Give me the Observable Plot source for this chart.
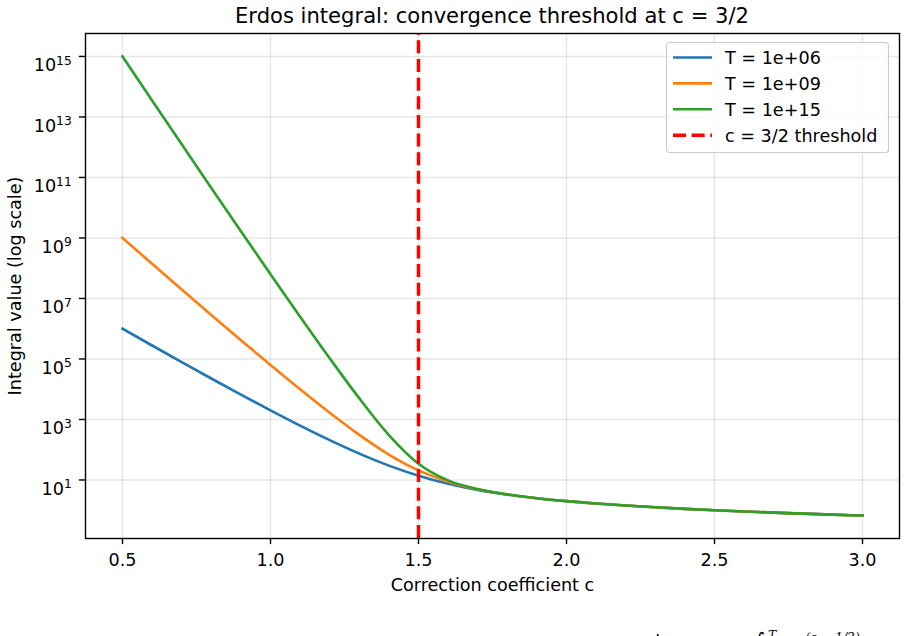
<!DOCTYPE html>
<html>
<head>
<meta charset="utf-8">
<script src="https://cdn.jsdelivr.net/npm/d3@7"></script>
<script src="https://cdn.jsdelivr.net/npm/@observablehq/plot@0.6"></script>
<style>
  html, body { margin: 0; padding: 0; background: #fff; }
  #chart { position: relative; width: 906px; height: 636px; overflow: hidden; background: #fff; font-family: "DejaVu Sans", sans-serif; }
  #title { position: absolute; left: 85px; top: 5px; width: 814px; text-align: center; font-size: 21.1px; line-height: 1; color: #000; white-space: nowrap; }
  #plot { position: absolute; left: 0; top: 0; }
  #legend { position: absolute; left: 666px; top: 42px; }
  #caption { position: absolute; left: 0; top: 600px; }
</style>
</head>
<body>
<div id="chart">
  <div id="plot"></div>
  <div id="title">Erdos integral: convergence threshold at c = 3/2</div>
  <div id="legend"></div>
  <div id="caption"></div>
</div>
<script>
// Correction coefficient c sampled along the x axis
const cValues = [0.5, 0.6, 0.7, 0.8, 0.9, 1.0, 1.1, 1.2, 1.3, 1.4, 1.5, 1.6, 1.7,
                 1.8, 1.9, 2.0, 2.1, 2.2, 2.3, 2.4, 2.5, 2.6, 2.7, 2.8, 2.9, 3.0];

// Integral value for each upper limit T
const valuesT1e6 = [1.0e6, 2.79e5, 7.89e4, 2.26e4, 6.63e3, 2.00e3, 625, 207, 74.2, 29.8,
                    13.8, 7.49, 4.68, 3.28, 2.49, 2.00, 1.67, 1.43, 1.25, 1.11,
                    1.00, 0.909, 0.833, 0.769, 0.714, 0.667];
const valuesT1e9 = [1.0e9, 1.40e8, 1.98e7, 2.85e6, 4.19e5, 6.32e4, 9.95e3, 1.67e3, 311, 69.4,
                    20.7, 8.74, 4.92, 3.33, 2.50, 2.00, 1.67, 1.43, 1.25, 1.11,
                    1.00, 0.909, 0.833, 0.769, 0.714, 0.667];
const valuesT1e15 = [1.0e15, 3.51e13, 1.25e12, 4.52e10, 1.67e9, 6.32e7, 2.50e6, 1.05e5, 5.00e3, 306,
                     34.5, 9.68, 5.00, 3.33, 2.50, 2.00, 1.67, 1.43, 1.25, 1.11,
                     1.00, 0.909, 0.833, 0.769, 0.714, 0.667];

const seriesLabels = ["T = 1e+06", "T = 1e+09", "T = 1e+15"];
const thresholdC = 1.5;
const thresholdLabel = "c = 3/2 threshold";

const xTicks = [0.5, 1.0, 1.5, 2.0, 2.5, 3.0];
const yTickExponents = [1, 3, 5, 7, 9, 11, 13, 15];

const titleText = "Erdos integral: convergence threshold at c = 3/2";
const xLabel = "Correction coefficient c";
const yLabel = "Integral value (log scale)";

// ---- styling (matplotlib-like look) ----
const seriesColors = ["#1f77b4", "#ff7f0e", "#2ca02c"];
const thresholdColor = "red";
const FONT = "DejaVu Sans";
const FS = 17.6;
const LINE_W = 2.64;
const SPINE_W = 1.41;
const DASH = "13.0,5.64";

const allSeries = [valuesT1e6, valuesT1e9, valuesT1e15];
const rows = allSeries.map((vals, k) =>
  cValues.map((c, i) => ({c, value: vals[i], series: seriesLabels[k]}))
);

// log axis limits padded by 5% of the data span in log space
const logMin = Math.log10(d3.min(allSeries.flat()));
const logMax = Math.log10(d3.max(allSeries.flat()));
const logPad = 0.05 * (logMax - logMin);
const yDomain = [10 ** (logMin - logPad), 10 ** (logMax + logPad)];
const xPad = 0.05 * (d3.max(cValues) - d3.min(cValues));
const xDomain = [d3.min(cValues) - xPad, d3.max(cValues) + xPad];

const gridStyle = {stroke: "#b0b0b0", strokeOpacity: 0.3, strokeWidth: 1.4};

const svg = Plot.plot({
  width: 906,
  height: 636,
  marginLeft: 85,
  marginRight: 7,
  marginTop: 33,
  marginBottom: 98,
  style: {fontFamily: FONT, fontSize: FS + "px", background: "transparent", color: "#000"},
  x: {domain: xDomain},
  y: {type: "log", domain: yDomain},
  marks: [
    Plot.gridX(xTicks, gridStyle),
    Plot.gridY(yTickExponents.map(e => 10 ** e), gridStyle),
    ...rows.map((data, k) => Plot.line(data, {
      x: "c", y: "value", stroke: seriesColors[k], strokeWidth: LINE_W,
      curve: "monotone-x", strokeLinecap: "square"
    })),
    Plot.ruleX([thresholdC], {
      y1: yDomain[0], y2: yDomain[1], stroke: thresholdColor,
      strokeWidth: 3.5, strokeDasharray: DASH, strokeLinecap: "butt"
    }),
    Plot.axisX({
      ticks: xTicks, tickFormat: d3.format(".1f"), tickSize: 6.15, tickPadding: 9.3,
      strokeWidth: SPINE_W, fontSize: FS, label: null
    }),
    Plot.axisY({
      ticks: yTickExponents.map(e => 10 ** e),
      tickFormat: d => String(Math.round(Math.log10(d))),
      tickSize: 6.15, tickPadding: 7.6, strokeWidth: SPINE_W, fontSize: FS, label: null
    }),
    Plot.text([xLabel], {
      text: d => d, frameAnchor: "bottom", lineAnchor: "middle", dy: 47, fontSize: FS
    }),
    Plot.text([yLabel], {
      text: d => d, frameAnchor: "left", rotate: -90, lineAnchor: "middle",
      textAnchor: "middle", dx: -70, fontSize: FS
    }),
    Plot.frame({stroke: "#000", strokeWidth: SPINE_W})
  ]
});

// y tick labels as powers of ten: "10" with the exponent raised
const SVGNS = "http://www.w3.org/2000/svg";
svg.querySelectorAll('g[aria-label="y-axis tick label"] text').forEach(t => {
  const exp = t.textContent;
  t.textContent = "10";
  t.setAttribute("dy", "9.3");
  const sup = document.createElementNS(SVGNS, "tspan");
  sup.setAttribute("font-size", "12.3");
  sup.setAttribute("dy", "-6.6");
  sup.textContent = exp;
  t.appendChild(sup);
});
document.getElementById("plot").appendChild(svg);

// legend box in the upper right of the axes
(function buildLegend() {
  const W = 223, H = 111;
  const entries = seriesLabels.map((label, k) => ({label, color: seriesColors[k], dash: null, w: LINE_W}))
    .concat([{label: thresholdLabel, color: thresholdColor, dash: DASH, w: 3.5}]);
  const lg = d3.create("svg").attr("width", W).attr("height", H)
    .style("font-family", FONT).style("font-size", FS + "px");
  lg.append("rect").attr("x", 0.5).attr("y", 0.5).attr("width", W - 1).attr("height", H - 1)
    .attr("rx", 3.5).attr("fill", "#fff").attr("fill-opacity", 0.8).attr("stroke", "#cccccc").attr("stroke-width", 1.2);
  entries.forEach((e, i) => {
    const cy = 15.5 + 25.9 * i;
    lg.append("line").attr("x1", 7).attr("x2", 46).attr("y1", cy).attr("y2", cy)
      .attr("stroke", e.color).attr("stroke-width", e.w)
      .attr("stroke-dasharray", e.dash);
    lg.append("text").attr("x", 59).attr("y", cy + 6.4).attr("fill", "#000").text(e.label);
  });
  document.getElementById("legend").appendChild(lg.node());
})();

// formula note under the figure (its lower part runs past the bottom edge)
(function buildCaption() {
  const cap = d3.create("svg").attr("width", 906).attr("height", 50)
    .style("font-family", "DejaVu Serif");
  const base = 47.7;
  cap.append("text").attr("x", 645).attr("y", base).attr("font-size", 17.6).text("via");
  cap.append("text").attr("x", 754).attr("y", base - 1).attr("font-size", 20).text("\u222B");
  cap.append("text").attr("x", 768).attr("y", 39.6).attr("font-size", 12.3).attr("font-style", "italic").text("T");
  cap.append("text").attr("x", 782).attr("y", base).attr("font-size", 17.6).attr("font-style", "italic").text("x");
  cap.append("text").attr("x", 795).attr("y", 41.7).attr("font-size", 12.3).attr("font-style", "italic").text("\u2212(c \u2212 1/2)");
  document.getElementById("caption").appendChild(cap.node());
})();
</script>
</body>
</html>
